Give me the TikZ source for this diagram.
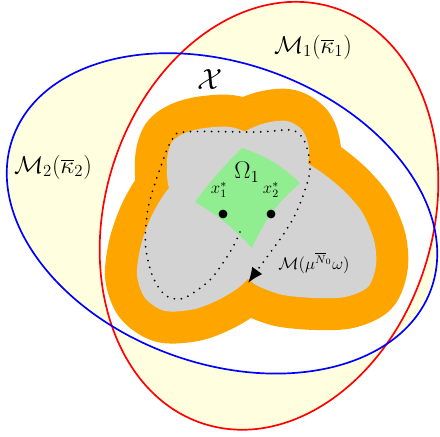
\documentclass[tikz,border=0pt]{standalone}
\usetikzlibrary{arrows.meta}
\definecolor{lyellow}{RGB}{255,255,224}
\definecolor{lorange}{RGB}{255,165,0}
\definecolor{lgray}{RGB}{211,211,211}
\definecolor{lgreen}{RGB}{144,238,144}
\newcommand{\lobeA}{plot[smooth cycle] coordinates {(4.175,6.925) (4.3,7.375) (4.625,7.6) (5.125,7.725) (5.875,7.725) (7.0,7.225) (7.95,6.675) (8.575,6.175) (9.05,5.625) (9.35,4.925) (9.4,4.3) (9.2,3.75) (8.625,3.5) (7.875,3.475) (7.075,3.55) (6.5,3.75) (6.2,3.95) (5.375,4.625) (4.625,5.55) (4.225,6.225)}}
\newcommand{\lobeB}{plot[smooth cycle] coordinates {(3.425,4.05) (3.525,4.8) (3.8,5.55) (4.225,6.225) (4.95,6.925) (5.8,7.475) (6.55,7.825) (7.175,7.9) (7.575,7.65) (7.725,7.175) (7.65,6.625) (7.25,5.675) (6.7,4.675) (6.125,3.875) (5.55,3.475) (4.875,3.2) (4.125,3.15) (3.625,3.475)}}
\begin{document}
\begin{tikzpicture}[scale=1.0,
  rim/.style={draw=lorange,fill=lorange,line width=1.6cm,line join=round},
  bound/.style={line width=1.2pt}]
\useasboundingbox (0,0) rectangle (11,10.925);
\fill[lyellow,even odd rule] (6.725,5.53) ellipse [x radius=4.1,y radius=5.45,rotate=-17]
  (5.55,5.59) ellipse [x radius=5.56,y radius=3.75,rotate=-20];

\draw[rim] \lobeA;
\draw[rim] \lobeB;
\fill[lgray] \lobeA;
\fill[lgray] \lobeB;
\fill[lgreen] (4.875,5.875) to[bend left=4] (6.05,7.225) to[bend left=12] (7.5,6.35)
  to[bend right=12] (6.3,4.725) to[bend right=8] cycle;

\draw[line width=1.4pt,line cap=round,dash pattern=on 0pt off 5pt,-{Latex[length=11pt,width=9pt]}]
  plot[smooth,tension=0.6] coordinates {(6.0,5.125) (5.825,4.75) (5.575,4.35) (5.25,3.925) (4.825,3.6) (4.5,3.45) (4.125,3.55) (3.825,4.0) (3.65,4.675) (3.65,5.3) (3.75,5.925) (4.05,6.85) (4.3,7.425) (4.625,7.625) (6.425,7.625) (7.25,7.675) (7.55,7.5) (7.7,7.125) (7.75,6.675) (7.625,6.175) (7.375,5.55) (7.075,5.05) (6.75,4.6) (6.2,3.85)};
\fill (5.575,5.575) circle (0.11);
\fill (6.775,5.575) circle (0.11);

\node (omega) at (6.175,6.625) {\LARGE $\Omega_1$};
\node (x1) at (5.475,6.175) {\large $x_1^*$};
\node (x2) at (6.775,6.175) {\large $x_2^*$};
\node (mset) at (7.85,4.35) {\large $\mathcal{M}(\mu^{\overline{N}_0}\omega)$};
\node (xset) at (5.25,8.925) {\huge $\mathcal{X}$};
\node (m1) at (7.825,9.75) {\LARGE $\mathcal{M}_1(\overline{\kappa}_1)$};
\node (m2) at (1.325,6.75) {\LARGE $\mathcal{M}_2(\overline{\kappa}_2)$};

\draw[red,bound] (6.725,5.53) ellipse [x radius=4.1,y radius=5.45,rotate=-17];
\draw[blue,bound] (5.55,5.59) ellipse [x radius=5.56,y radius=3.75,rotate=-20];
\end{tikzpicture}
\end{document}
